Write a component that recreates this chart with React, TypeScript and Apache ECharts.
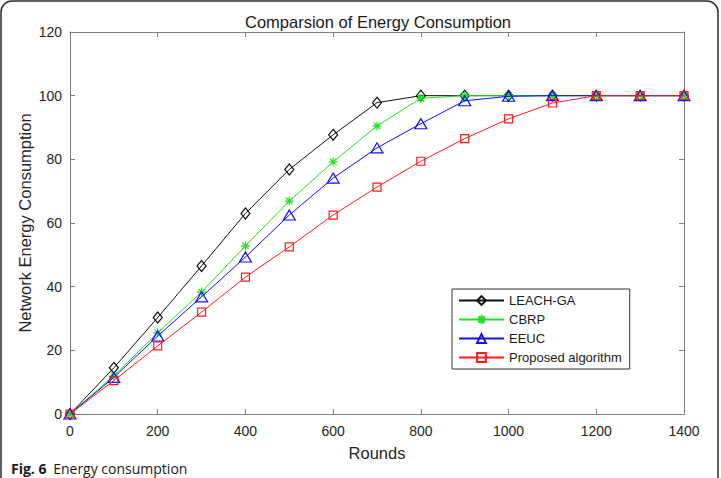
import React, { useEffect, useRef } from "react";
import * as echarts from "echarts";

// Rounds on the x axis
const rounds = [0, 100, 200, 300, 400, 500, 600, 700, 800, 900, 1000, 1100, 1200, 1300, 1400];

// Network energy consumption (%) per algorithm
const leachGA = [0, 14.5, 30.3, 46.5, 63.0, 76.8, 87.7, 97.8, 100, 100, 100, 100, 100, 100, 100];
const cbrp = [0, 12.0, 25.5, 38.3, 52.8, 66.9, 79.2, 90.5, 99.2, 100, 100, 100, 100, 100, 100];
const eeuc = [0, 11.5, 24.5, 36.8, 49.3, 62.5, 74.1, 83.6, 91.2, 98.4, 99.8, 100, 100, 100, 100];
const proposed = [0, 10.5, 21.4, 32.0, 43.0, 52.5, 62.5, 71.3, 79.4, 86.5, 92.7, 97.7, 100, 100, 100];

const seriesNames = ["LEACH-GA", "CBRP", "EEUC", "Proposed algorithm"];
const seriesColors = ["#111111", "#22e022", "#1010ff", "#ff1a1a"];

const FONT = "'Liberation Sans', Arial, sans-serif";
const ASTERISK =
  "path://M0,-5L0,5M-5,0L5,0M-3.6,-3.6L3.6,3.6M-3.6,3.6L3.6,-3.6";

const toPairs = (ys: number[]) => rounds.map((x, i) => [x, ys[i]]);

const AXIS_GREY = "#7f7f7f";
const axisLine = () => ({ show: true, onZero: false, lineStyle: { color: AXIS_GREY, width: 1 } });
const axisTick = () => ({ show: true, inside: true, length: 5, lineStyle: { color: AXIS_GREY, width: 1 } });

export default function App() {
  const ref = useRef<HTMLDivElement>(null);

  useEffect(() => {
    if (!ref.current) return;
    const chart = echarts.init(ref.current, undefined, { renderer: "svg" });

    const values = [leachGA, cbrp, eeuc, proposed];
    const symbols: any[] = ["diamond", ASTERISK, "triangle", "rect"];
    const sizes: any[] = [[9, 11], 9, [12, 10], 8];

    const labelStyle = { color: "#262626", fontSize: 14, fontFamily: FONT };

    chart.setOption({
      animation: false,
      backgroundColor: "#ffffff",
      grid: { left: 70, right: 37, top: 32, bottom: 64, show: false },
      title: {
        text: "Comparsion of Energy Consumption",
        left: 373,
        top: 8,
        textAlign: "center",
        textStyle: { fontFamily: FONT, fontSize: 16.5, fontWeight: "normal", color: "#1a1a1a" },
      },
      legend: {
        orient: "vertical",
        left: 452,
        top: 289,
        data: seriesNames,
        itemWidth: 45,
        itemHeight: 11,
        itemGap: 4,
        padding: [4, 8, 4, 6],
        borderColor: "#333333",
        borderWidth: 1,
        backgroundColor: "#ffffff",
        textStyle: { fontFamily: FONT, fontSize: 13, color: "#1a1a1a", lineHeight: 15 },
      },
      xAxis: [
        {
          type: "value",
          min: 0,
          max: 1400,
          interval: 200,
          name: "Rounds",
          nameLocation: "middle",
          nameGap: 30,
          nameMoveOverlap: false,
          nameTextStyle: { fontFamily: FONT, fontSize: 16.5, color: "#262626" },
          axisLine: axisLine(),
          axisTick: axisTick(),
          axisLabel: { ...labelStyle, margin: 10, formatter: (v: number) => String(v) },
          splitLine: { show: false },
        },
        {
          type: "value",
          position: "top",
          min: 0,
          max: 1400,
          interval: 200,
          axisLine: axisLine(),
          axisTick: axisTick(),
          axisLabel: { show: false },
          splitLine: { show: false },
        },
      ],
      yAxis: [
        {
          type: "value",
          min: 0,
          max: 120,
          interval: 20,
          name: "Network Energy Consumption",
          nameLocation: "middle",
          nameGap: 37,
          nameMoveOverlap: false,
          nameTextStyle: { fontFamily: FONT, fontSize: 16.5, color: "#262626" },
          axisLine: axisLine(),
          axisTick: axisTick(),
          axisLabel: { ...labelStyle, margin: 8 },
          splitLine: { show: false },
        },
        {
          type: "value",
          position: "right",
          min: 0,
          max: 120,
          interval: 20,
          axisLine: axisLine(),
          axisTick: axisTick(),
          axisLabel: { show: false },
          splitLine: { show: false },
        },
      ],
      series: values.map((ys, i) => ({
        name: seriesNames[i],
        type: "line",
        xAxisIndex: 0,
        yAxisIndex: 0,
        data: toPairs(ys),
        symbol: symbols[i],
        symbolSize: sizes[i],
        showAllSymbol: true,
        lineStyle: { color: seriesColors[i], width: 1 },
        itemStyle: {
          color: "rgba(255,255,255,0)",
          borderColor: seriesColors[i],
          borderWidth: 1.2,
        },
        emphasis: { disabled: true },
        z: 2 + i,
      })),
      graphic: [
        {
          type: "rect",
          shape: { x: 1, y: 1, width: 717, height: 530, r: 11 },
          style: { fill: "none", stroke: "#2b2b2b", lineWidth: 1.5 },
          silent: true,
        },
        {
          type: "text",
          left: 11,
          top: 461,
          style: {
            text: "{b|Fig. 6}  {n|Energy consumption}",
            rich: {
              b: { fontFamily: "'Open Sans', sans-serif", fontSize: 14, lineHeight: 16, fontWeight: "bold", fill: "#1a1a1a" },
              n: { fontFamily: "'Open Sans', sans-serif", fontSize: 14, lineHeight: 16, fill: "#1a1a1a" },
            },
          },
        },
      ],
    });

    return () => chart.dispose();
  }, []);

  return (
    <div
      ref={ref}
      style={{ position: "absolute", left: 0, top: 0, width: 721, height: 478, overflow: "hidden" }}
    />
  );
}
